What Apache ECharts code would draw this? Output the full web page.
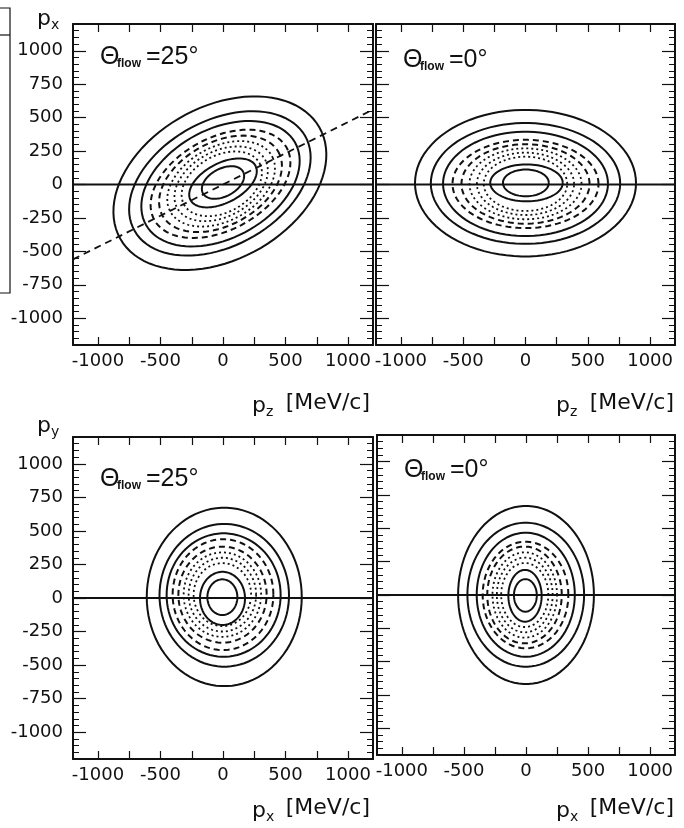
<!DOCTYPE html>
<html>
<head>
<meta charset="utf-8">
<script src="https://cdn.jsdelivr.net/npm/echarts@6.0.0/dist/echarts.min.js"></script>
<style>
  html, body { margin: 0; padding: 0; background: #fff; }
  #chart { width: 684px; height: 828px; }
</style>
</head>
<body>
<div id="chart"></div>
<script>
// contour rings, outermost first: [centre x, centre y, half-width, half-height, tilt (deg)]
var pxpz25 = [
  [-25, 10, 900, 580, 25],
  [-25, 8, 770, 475, 25],
  [-20, 6, 672, 412, 25],
  [-20, 5, 595, 350, 25],
  [-20, 5, 522, 315, 25],
  [-15, 5, 457, 281, 25],
  [-15, 5, 396, 247, 25],
  [-10, 5, 340, 215, 25],
  [0, 12, 290, 150, 25],
  [0, 15, 180, 105, 25]
];
var pxpz0 = [
  [0, 10, 887, 548, 0],
  [0, 8, 760, 452, 0],
  [0, 5, 662, 390, 0],
  [0, 4, 586, 330, 0],
  [0, 4, 514, 297, 0],
  [0, 5, 450, 265, 0],
  [0, 5, 390, 233, 0],
  [0, 5, 335, 203, 0],
  [8, 12, 291, 138, 0],
  [3, 12, 184, 100, 0]
];
var pypx25 = [
  [10, 8, 620, 665, 0],
  [10, 20, 518, 532, 0],
  [5, 22, 456, 460, 0],
  [0, 25, 403, 413, 0],
  [-4, 25, 353, 358, 0],
  [-5, 25, 310, 315, 0],
  [-5, 25, 270, 275, 0],
  [-5, 25, 230, 235, 0],
  [-4, -3, 180, 198, 0],
  [-5, 6, 120, 133, 0]
];
var pypx0 = [
  [0, 0, 547, 668, 0],
  [-2, 2, 470, 540, 0],
  [-2, 2, 395, 465, 0],
  [-4, 0, 345, 400, 0],
  [-12, 0, 300, 363, 0],
  [-10, 0, 260, 320, 0],
  [-10, 0, 225, 280, 0],
  [-10, 0, 190, 240, 0],
  [-8, -6, 134, 194, 0],
  [-5, -3, 92, 122, 0]
];
var flowAxis = [[-1200, -560], [1200, 560]];
var reactionPlane = [[-1200, 0], [1200, 0]];

var xTicks = [-1000, -750, -500, -250, 0, 250, 500, 750, 1000];
var xLabels = [-1000, -500, 0, 500, 1000];
var yTicks = [-1000, -750, -500, -250, 0, 250, 500, 750, 1000];
var yMinor = [];
for (var v = -1150; v <= 1150; v += 50) yMinor.push(v);

// line style of each ring, outermost first
var ringStyle = ['solid', 'solid', 'solid', 'dashed', 'dashed', 'dotted', 'dotted', 'dotted', 'solid', 'solid'];

var ink = '#111';
var chart = echarts.init(document.getElementById('chart'), null, { renderer: 'canvas' });

var grids = [
  { left: 73, top: 24, width: 300, height: 321 },
  { left: 376, top: 24, width: 299, height: 321 },
  { left: 73, top: 437, width: 300, height: 322 },
  { left: 377, top: 435, width: 298, height: 320 }
];

function plain(v) { return String(v); }

var xAxes = [], yAxes = [];
grids.forEach(function(g, gi) {
  ['bottom', 'top'].forEach(function(pos) {
    xAxes.push({
      gridIndex: gi, type: 'value', min: -1200, max: 1200, position: pos,
      axisLine: { onZero: false, lineStyle: { color: ink, width: 2 } },
      axisTick: { inside: true, length: 8, customValues: xTicks, lineStyle: { color: ink, width: 1.2 } },
      axisLabel: {
        show: pos === 'bottom', customValues: xLabels, formatter: plain, color: ink,
        fontSize: 18, fontFamily: 'DejaVu Sans', margin: 7
      },
      splitLine: { show: false }
    });
  });
  ['left', 'right'].forEach(function(pos) {
    yAxes.push({
      gridIndex: gi, type: 'value', min: -1200, max: 1200, position: pos,
      axisLine: { onZero: false, lineStyle: { color: ink, width: 2 } },
      axisTick: { inside: true, length: 13, customValues: yTicks, lineStyle: { color: ink, width: 1.2 } },
      axisLabel: {
        show: pos === 'left' && (gi === 0 || gi === 2), customValues: yTicks, formatter: plain,
        color: ink, fontSize: 18, fontFamily: 'DejaVu Sans', margin: 10
      },
      splitLine: { show: false }
    });
    yAxes.push({
      gridIndex: gi, type: 'value', min: -1200, max: 1200, position: pos,
      axisLine: { show: false, onZero: false },
      axisTick: { inside: true, length: 6, customValues: yMinor, lineStyle: { color: ink, width: 1 } },
      axisLabel: { show: false },
      splitLine: { show: false }
    });
  });
});

function renderRing(params, api) {
  var cx = api.value(0), cy = api.value(1), a = api.value(2), b = api.value(3);
  var t = api.value(4) * Math.PI / 180;
  var pts = [];
  for (var k = 0; k <= 90; k++) {
    var u = k / 90 * 2 * Math.PI;
    var dx = a * Math.cos(u), dy = b * Math.sin(u);
    pts.push(api.coord([cx + dx * Math.cos(t) - dy * Math.sin(t), cy + dx * Math.sin(t) + dy * Math.cos(t)]));
  }
  var s = ringStyle[params.dataIndex];
  return {
    type: 'polyline',
    shape: { points: pts },
    style: {
      fill: null, stroke: ink,
      lineWidth: s === 'dotted' ? 1.8 : 2,
      lineDash: s === 'dashed' ? [6, 4] : (s === 'dotted' ? [2, 3] : null)
    }
  };
}

var series = [];
[pxpz25, pxpz0, pypx25, pypx0].forEach(function(rings, gi) {
  series.push({
    type: 'custom', xAxisIndex: gi * 2, yAxisIndex: gi * 4, clip: true, silent: true,
    encode: { x: 0, y: 1 }, data: rings, renderItem: renderRing
  });
  series.push({
    type: 'line', xAxisIndex: gi * 2, yAxisIndex: gi * 4, symbol: 'none', silent: true,
    data: reactionPlane, lineStyle: { color: ink, width: 2 }
  });
});
series.push({
  type: 'line', xAxisIndex: 0, yAxisIndex: 0, symbol: 'none', silent: true, clip: true,
  data: flowAxis, lineStyle: { color: ink, width: 1.8, type: [7, 5] }
});

// all texts are centred vertically on y
function txt(x, y, s, size, opts) {
  opts = opts || {};
  return {
    type: 'text', x: x, y: y, silent: true,
    style: {
      text: s, fill: ink, fontSize: size,
      fontFamily: opts.family || 'Liberation Sans',
      fontWeight: opts.weight || 'normal',
      align: opts.align || 'left',
      verticalAlign: 'middle'
    }
  };
}

function thetaLabel(x, y, rest) {
  return [
    txt(x, y, 'Θ', 25),
    txt(x + 17, y + 7, 'flow', 12, { weight: 'bold' }),
    txt(x + 46, y, rest, 25)
  ];
}

function momLabel(x, y, sub) {
  return [
    txt(x, y + 3, 'p', 22, { family: 'DejaVu Sans' }),
    txt(x + 14, y + 9, sub, 14, { family: 'DejaVu Sans' }),
    txt(x + 118, y, '[MeV/c]', 22, { family: 'DejaVu Sans', align: 'right' })
  ];
}

var graphics = [].concat(
  thetaLabel(100, 57, '=25°'),
  thetaLabel(403, 60, '=0°'),
  thetaLabel(100, 479, '=25°'),
  thetaLabel(404, 470, '=0°'),
  momLabel(252, 403, 'z'),
  momLabel(556, 403, 'z'),
  momLabel(252, 808, 'x'),
  momLabel(556, 808, 'x'),
  [
    txt(37, 19, 'p', 22, { family: 'DejaVu Sans' }),
    txt(51, 25, 'x', 14, { family: 'DejaVu Sans' }),
    txt(37, 426, 'p', 22, { family: 'DejaVu Sans' }),
    txt(51, 432, 'y', 14, { family: 'DejaVu Sans' }),
    // fragment of the neighbouring figure at the left edge
    { type: 'polyline', silent: true, shape: { points: [[0, 8], [10, 8], [10, 293], [0, 293]] }, style: { stroke: ink, lineWidth: 1.2, fill: null } },
    { type: 'line', silent: true, shape: { x1: 0, y1: 35, x2: 10, y2: 35 }, style: { stroke: ink, lineWidth: 1.2 } }
  ]
);

chart.setOption({
  animation: false,
  backgroundColor: '#fff',
  grid: grids,
  xAxis: xAxes,
  yAxis: yAxes,
  series: series,
  graphic: graphics
});
window.addEventListener('resize', function() { chart.resize(); });
</script>
</body>
</html>
